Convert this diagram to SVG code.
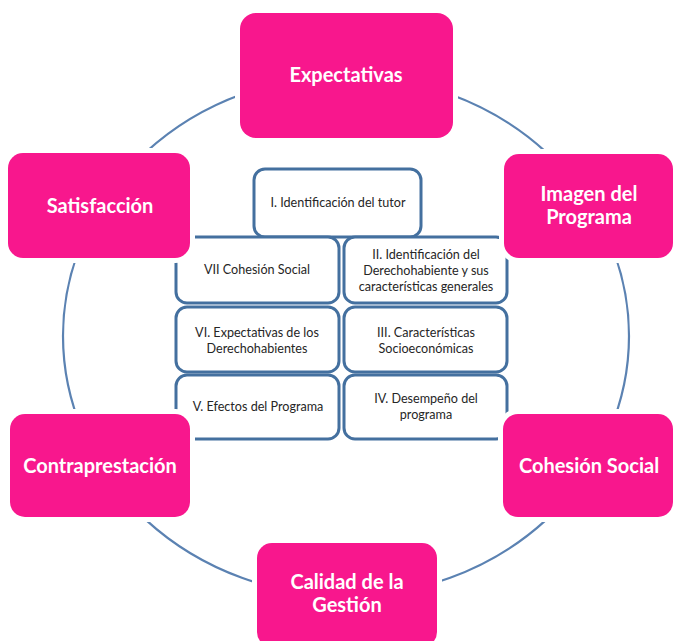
<svg xmlns="http://www.w3.org/2000/svg" width="673" height="641" viewBox="0 0 673 641">
<style>
.ring{fill:none;stroke:#5B82B2;stroke-width:2.2}
.inner{fill:#ffffff;stroke:#44709F;stroke-width:3}
.itxt{font-family:Lato,"Open Sans",sans-serif;font-size:12.6px;fill:#262626;text-anchor:middle}
.outer{fill:#F8178D;stroke:#ffffff;stroke-width:10;paint-order:stroke fill}
.otxt{font-family:Lato,"Open Sans",sans-serif;font-size:20px;font-weight:bold;fill:#ffffff;text-anchor:middle}
</style>
<rect width="673" height="641" fill="#ffffff"/>
<g id="connectors">
<ellipse class="ring" cx="346" cy="336" rx="283" ry="260"/>
</g>
<g id="n-tutor"><rect class="inner" x="254" y="169" width="167" height="68" rx="11"/><text class="itxt" x="338" y="207">I. Identificación del tutor</text></g>
<g id="n-vii"><rect class="inner" x="176" y="237" width="163" height="66" rx="11"/><text class="itxt" x="257" y="274">VII Cohesión Social</text></g>
<g id="n-ii"><rect class="inner" x="344" y="237" width="163" height="66" rx="11"/><text class="itxt" x="426" y="259">II. Identificación del</text><text class="itxt" x="426" y="275">Derechohabiente y sus</text><text class="itxt" x="426" y="291">características generales</text></g>
<g id="n-vi"><rect class="inner" x="176" y="307" width="163" height="65" rx="11"/><text class="itxt" x="257" y="337">VI. Expectativas de los</text><text class="itxt" x="257" y="353">Derechohabientes</text></g>
<g id="n-iii"><rect class="inner" x="344" y="307" width="163" height="65" rx="11"/><text class="itxt" x="426" y="337">III. Características</text><text class="itxt" x="426" y="353">Socioeconómicas</text></g>
<g id="n-v"><rect class="inner" x="176" y="375" width="163" height="64" rx="11"/><text class="itxt" x="258" y="411">V. Efectos del Programa</text></g>
<g id="n-iv"><rect class="inner" x="344" y="375" width="163" height="64" rx="11"/><text class="itxt" x="426" y="403">IV. Desempeño del</text><text class="itxt" x="426" y="419">programa</text></g>
<g id="n-expectativas"><rect class="outer" x="240" y="13" width="213" height="125" rx="16"/><text class="otxt" x="346" y="82">Expectativas</text></g>
<g id="n-satisfaccion"><rect class="outer" x="8" y="153" width="182" height="105" rx="15"/><text class="otxt" x="100" y="213">Satisfacción</text></g>
<g id="n-imagen"><rect class="outer" x="504" y="154" width="169" height="104" rx="15"/><text class="otxt" x="589" y="201">Imagen del</text><text class="otxt" x="589" y="224">Programa</text></g>
<g id="n-contraprestacion"><rect class="outer" x="10" y="414" width="180" height="103" rx="15"/><text class="otxt" x="100" y="473">Contraprestación</text></g>
<g id="n-cohesion"><rect class="outer" x="503" y="414" width="170" height="103" rx="15"/><text class="otxt" x="589" y="473">Cohesión Social</text></g>
<g id="n-calidad"><rect class="outer" x="257" y="543" width="180" height="104" rx="15"/><text class="otxt" x="347" y="589">Calidad de la</text><text class="otxt" x="347" y="612">Gestión</text></g>
</svg>
